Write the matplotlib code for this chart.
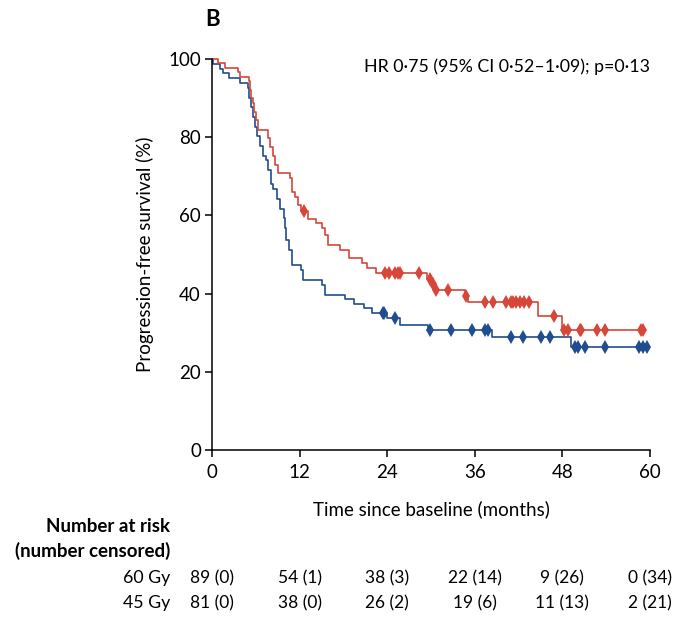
import numpy as np
import matplotlib.pyplot as plt
from matplotlib import transforms

plt.rcParams['font.family'] = ['Lato', 'DejaVu Sans']

red = '#d6473a'
blue = '#1f4d8f'

# 60 Gy arm: event times (months) and survival after each event (%)
t60 = [0, 0.8, 1.8, 3.6, 3.8, 5.0, 5.2, 5.4, 5.6, 5.8, 6.0, 6.3, 7.7, 8.0, 8.3,
       8.6, 9.1, 10.7, 10.9, 11.4, 11.8, 12.2, 13.2, 14.3, 15.0, 15.5, 15.9,
       17.5, 18.7, 20.5, 21.2, 22.5, 29.4, 30.1, 30.5, 34.6, 35.0, 44.7, 48.0]
s60 = [100, 98.9, 97.8, 96.6, 95.5, 94.4, 92.1, 89.9, 88.8, 86.5, 84.3, 81.8,
       79.8, 77.5, 75.3, 73.0, 70.8, 69.5, 66.0, 64.8, 62.7, 61.0, 59.2, 58.0,
       56.7, 55.0, 52.4, 51.2, 49.2, 47.7, 46.6, 45.2, 43.8, 42.4, 41.0, 39.4,
       37.8, 34.3, 30.7]
c60 = [12.6, 23.7, 24.2, 25.1, 25.5, 25.7, 28.4, 29.8, 30.3, 30.7, 32.3, 34.8,
       37.4, 38.5, 40.3, 40.9, 41.3, 41.7, 42.2, 42.7, 43.4, 46.8, 48.2, 48.8,
       50.4, 50.6, 52.7, 53.9, 58.7, 59.1]
end60 = 59.3

# 45 Gy arm
t45 = [0, 0.2, 1.1, 1.5, 2.3, 3.8, 4.9, 5.1, 5.4, 5.6, 5.9, 6.2, 6.6, 7.0, 7.4,
       7.7, 8.1, 8.4, 8.9, 9.3, 9.8, 10.0, 10.2, 10.5, 11.0, 12.2, 12.4, 15.0,
       15.5, 18.2, 19.4, 20.8, 21.9, 24.0, 25.7, 29.6, 38.3, 49.2]
s45 = [100, 98.8, 97.5, 96.3, 95.1, 93.8, 92.6, 90.1, 87.7, 85.2, 82.7, 80.2,
       77.8, 75.3, 74.1, 71.6, 68.0, 66.7, 64.2, 61.7, 59.3, 56.8, 53.7, 51.2,
       47.3, 46.0, 43.4, 42.2, 39.6, 38.5, 37.3, 36.2, 35.0, 33.8, 32.0, 30.6,
       28.9, 26.3]
c45 = [23.4, 23.6, 25.1, 29.9, 32.8, 35.6, 37.4, 37.8, 40.9, 42.6, 45.1, 46.3,
       49.7, 50.2, 51.1, 53.9, 58.5, 59.1, 59.6]
end45 = 59.6

risk_times = [0, 12, 24, 36, 48, 60]
at_risk_60 = [89, 54, 38, 22, 9, 0]
cens_60 = [0, 1, 3, 14, 26, 34]
at_risk_45 = [81, 38, 26, 19, 11, 2]
cens_45 = [0, 0, 2, 6, 13, 21]


def km(ax, t, s, cens, end, color):
    tt = np.array(t + [end])
    ss = np.array(s + [s[-1]])
    ax.step(tt, ss, where='post', color=color, lw=1.2, clip_on=False)
    idx = np.searchsorted(tt, cens, side='right') - 1
    ax.plot(cens, ss[idx], ls='none', marker='d', ms=7, mew=0,
            color=color, clip_on=False)


W, H = 680, 627
fig = plt.figure(figsize=(W / 100, H / 100), dpi=100)
ax = fig.add_axes([212 / W, 1 - 450 / H, 438 / W, 391 / H])

km(ax, t45, s45, c45, end45, blue)
km(ax, t60, s60, c60, end60, red)

ax.set_xlim(0, 60)
ax.set_ylim(0, 100)
ax.set_xticks(risk_times)
ax.set_yticks([0, 20, 40, 60, 80, 100])
for sp in ['top', 'right']:
    ax.spines[sp].set_visible(False)
for sp in ['left', 'bottom']:
    ax.spines[sp].set_linewidth(1.1)
ax.tick_params(direction='out', length=5, width=1.1, labelsize=13.5, pad=3)
ax.tick_params(axis='x', pad=5)
ax.set_xlabel('Time since baseline (months)', fontsize=13.5, labelpad=14)
ax.set_ylabel('Progression-free survival (%)', fontsize=13.5, labelpad=10)

fig.text(205 / W, 1 - 19 / H, 'B', fontsize=16, fontweight='bold',
         ha='left', va='center')
fig.text(650 / W, 1 - 67 / H, 'HR 0·75 (95% CI 0·52–1·09); p=0·13',
         fontsize=12.8, ha='right', va='center')

# number at risk table
fig.text(170 / W, 1 - 527 / H, 'Number at risk', fontsize=13.5,
         fontweight='bold', ha='right', va='center')
fig.text(170 / W, 1 - 551 / H, '(number censored)', fontsize=13.5,
         fontweight='bold', ha='right', va='center')
fig.text(170 / W, 1 - 578 / H, '60 Gy', fontsize=12.8, ha='right', va='center')
fig.text(170 / W, 1 - 603 / H, '45 Gy', fontsize=12.8, ha='right', va='center')

tr = transforms.blended_transform_factory(ax.transData, fig.transFigure)
for x, n, c in zip(risk_times, at_risk_60, cens_60):
    ax.text(x, 1 - 578 / H, f'{n} ({c})', transform=tr, fontsize=12.5,
            ha='center', va='center')
for x, n, c in zip(risk_times, at_risk_45, cens_45):
    ax.text(x, 1 - 603 / H, f'{n} ({c})', transform=tr, fontsize=12.5,
            ha='center', va='center')

fig.savefig('out.png', dpi=100)
